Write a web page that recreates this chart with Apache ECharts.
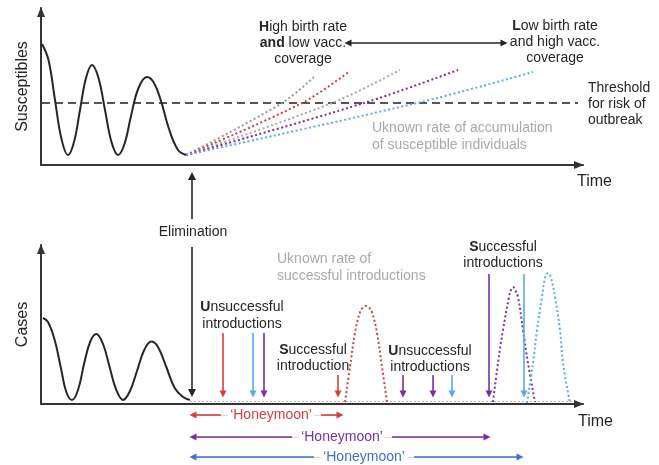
<!DOCTYPE html>
<html>
<head>
<meta charset="utf-8">
<script src="https://cdn.jsdelivr.net/npm/echarts@6/dist/echarts.min.js"></script>
<style>
html,body{margin:0;padding:0;background:#fff;}
#chart{width:659px;height:465px;}
</style>
</head>
<body>
<div id="chart"></div>
<script>
// ---------- DATA (schematic units: time 0-542, level 0-157 top / 0-159 bottom) ----------
// Top panel: susceptibles before elimination
const suscTime  = [1, 7.5, 14, 20.5, 27, 33, 39, 45, 51, 57.5, 64, 70.5, 77, 83.5, 90, 97.5, 106, 113, 120, 128, 137, 145];
const suscLevel = [121, 105, 65, 26, 10, 23, 55, 87, 100, 87, 55, 23, 10, 21, 49, 77, 88, 82, 64, 36, 15, 10];
// Threshold for risk of outbreak
const thresholdLevel = 62;
const thresholdSpan = [1, 537];
// Accumulation scenarios after elimination (start, threshold crossing, end)
const accumNames     = ['grey1', 'red', 'grey2', 'purple', 'blue'];
const accumStart     = [145, 10];
const accumCrossTime = [241, 261, 291, 323, 376];
const accumEndTime   = [274, 309, 359, 417, 492];
const accumEndLevel  = [89, 94, 95, 95, 93];
// Double arrow between scenario labels
const scenarioArrowTime  = [307, 463];
const scenarioArrowLevel = 122;

// Bottom panel: cases before elimination
const casesTime  = [2, 7, 13.7, 20.3, 25.3, 31, 37, 43.5, 49.5, 55.3, 62, 68.6, 75.3, 82, 89, 96, 103.2, 110.3, 117, 125.3, 133.7, 142, 149];
const casesLevel = [86, 82, 64, 34, 12, 4, 14, 42, 63, 70, 60, 37, 14, 4, 13, 33, 54, 62.5, 57, 37, 16, 7, 4];
// Zero-case baseline after elimination
const baselineSpan = [149, 532];
const baselineLevel = 2.5;
// Outbreaks after successful introductions
const redOutbreakTime     = [304, 309, 314, 319, 322, 325, 328, 331, 336, 341, 346];
const redOutbreakCases    = [2, 37, 71, 92, 96.5, 98, 96.5, 92, 71, 37, 2];
const purpleOutbreakTime  = [452, 457, 462, 468, 470, 472, 474, 477, 482, 487, 494];
const purpleOutbreakCases = [2, 41, 74, 107, 114, 117, 114, 107, 74, 41, 2];
const blueOutbreakTime    = [486, 492, 496, 501, 504, 507, 510, 514, 519, 522, 529];
const blueOutbreakCases   = [1, 41, 74, 107, 126, 131, 126, 107, 74, 41, 1];
// Introductions (arrows)
const introTime   = [182, 212, 223, 297, 362, 392, 411, 448, 483];
const introTop    = [71, 71, 71, 29, 29, 29, 29, 130, 130];
const introBottom = [10, 10, 10, 10, 10, 10, 10, 10, 10];
const introGroup  = ['red', 'blue', 'purple', 'red', 'purple', 'purple', 'blue', 'purple', 'blue'];
// Elimination arrow
const elimTime = 151;
const elimUp   = [185, 228];
const elimDown = [157, 11];
// Honeymoon periods
const honeyGroup  = ['red', 'purple', 'blue'];
const honeyStart  = 152;
const honeyEnd    = [299, 446, 479];
const honeyLevel  = [-11, -33, -53];
const honeyLabelTime = [230, 301, 323];

// ---------- STYLE ----------
const FONT = '"Liberation Sans", Arial, Helvetica, sans-serif';
const COLORS = { red: '#d33f3f', purple: '#7d2e9e', blue: '#5aa8ee', grey1: '#9a9a9a', grey2: '#a8a8a8' };
const HONEY_COLORS = { red: '#d33f3f', purple: '#7d2e9e', blue: '#3f6fcf' };
const INK = '#262626';

const chart = echarts.init(document.getElementById('chart'), null, { renderer: 'canvas' });

function zip(a, b) { return a.map((v, i) => [v, b[i]]); }

const axisLine = {
  show: true, onZero: false,
  lineStyle: { color: '#333', width: 2 },
  symbol: ['none', 'triangle'], symbolSize: [8, 10], symbolOffset: [0, -4]
};
function xAx(g) {
  return { gridIndex: g, type: 'value', min: 0, max: 542, axisLine, axisTick: { show: false }, axisLabel: { show: false }, splitLine: { show: false } };
}
function yAx(g, max, name) {
  return { gridIndex: g, type: 'value', min: 0, max, axisLine, axisTick: { show: false }, axisLabel: { show: false }, splitLine: { show: false },
    name, nameLocation: 'middle', nameRotate: 90, nameGap: 10,
    nameTextStyle: { fontSize: 16, color: INK, fontFamily: FONT } };
}

const series = [];
// top
series.push({ type: 'line', xAxisIndex: 0, yAxisIndex: 0, data: zip(suscTime, suscLevel), smooth: 0.4, showSymbol: false,
  lineStyle: { color: INK, width: 2 }, z: 5 });
series.push({ type: 'line', xAxisIndex: 0, yAxisIndex: 0, data: thresholdSpan.map(t => [t, thresholdLevel]), showSymbol: false,
  lineStyle: { color: '#555', width: 1.8, type: [8, 5] }, z: 3 });
accumNames.forEach((n, i) => {
  series.push({ type: 'line', xAxisIndex: 0, yAxisIndex: 0, showSymbol: false, smooth: 0.35,
    data: [accumStart, [accumCrossTime[i], thresholdLevel], [accumEndTime[i], accumEndLevel[i]]],
    lineStyle: { color: COLORS[n], width: 2, type: [2, 2.5] }, z: 4 });
});
series.push({ type: 'lines', coordinateSystem: 'cartesian2d', xAxisIndex: 0, yAxisIndex: 0, clip: false,
  symbol: ['triangle', 'triangle'], symbolSize: 7,
  lineStyle: { color: INK, width: 1.5, opacity: 1 },
  data: [{ coords: scenarioArrowTime.map(t => [t, scenarioArrowLevel]) }] });

// bottom
series.push({ type: 'line', xAxisIndex: 1, yAxisIndex: 1, data: zip(casesTime, casesLevel), smooth: 0.4, showSymbol: false,
  lineStyle: { color: INK, width: 2 }, z: 5 });
series.push({ type: 'line', xAxisIndex: 1, yAxisIndex: 1, data: baselineSpan.map(t => [t, baselineLevel]), showSymbol: false,
  lineStyle: { color: '#b5b5b5', width: 1.2, type: [2, 2] }, z: 2 });
[[redOutbreakTime, redOutbreakCases, 'red'], [purpleOutbreakTime, purpleOutbreakCases, 'purple'], [blueOutbreakTime, blueOutbreakCases, 'blue']]
  .forEach(([t, c, n]) => {
    series.push({ type: 'line', xAxisIndex: 1, yAxisIndex: 1, data: zip(t, c), smooth: 0.4, showSymbol: false,
      lineStyle: { color: COLORS[n], width: 2, type: [2, 2.5] }, z: 4 });
  });
series.push({ type: 'lines', coordinateSystem: 'cartesian2d', xAxisIndex: 1, yAxisIndex: 1, clip: false,
  symbol: ['none', 'triangle'], symbolSize: 7, z: 6,
  data: introTime.map((t, i) => ({ coords: [[t, introTop[i]], [t, introBottom[i]]],
    lineStyle: { color: COLORS[introGroup[i]], width: 1.6, opacity: 1 } })) });
series.push({ type: 'lines', coordinateSystem: 'cartesian2d', xAxisIndex: 1, yAxisIndex: 1, clip: false,
  symbol: ['none', 'triangle'], symbolSize: 8, z: 6,
  lineStyle: { color: INK, width: 1.6, opacity: 1 },
  data: [{ coords: [[elimTime, elimUp[0]], [elimTime, elimUp[1]]] }, { coords: [[elimTime, elimDown[0]], [elimTime, elimDown[1]]] }] });
// honeymoon: faint full line, then coloured segments with arrowheads
const GAP = 50;
series.push({ type: 'lines', coordinateSystem: 'cartesian2d', xAxisIndex: 1, yAxisIndex: 1, clip: false, symbol: 'none', z: 2,
  lineStyle: { color: '#dcdcdc', width: 1.2, opacity: 1 },
  data: honeyGroup.map((g, i) => ({ coords: [[honeyStart, honeyLevel[i]], [honeyEnd[i], honeyLevel[i]]] })) });
series.push({ type: 'lines', coordinateSystem: 'cartesian2d', xAxisIndex: 1, yAxisIndex: 1, clip: false,
  symbol: ['triangle', 'none'], symbolSize: 7, z: 3,
  data: honeyGroup.map((g, i) => ({ coords: [[honeyStart, honeyLevel[i]], [honeyLabelTime[i] - GAP, honeyLevel[i]]],
    lineStyle: { color: HONEY_COLORS[g], width: 1.6, opacity: 1 } })) });
series.push({ type: 'lines', coordinateSystem: 'cartesian2d', xAxisIndex: 1, yAxisIndex: 1, clip: false,
  symbol: ['none', 'triangle'], symbolSize: 7, z: 3,
  data: honeyGroup.map((g, i) => ({ coords: [[honeyLabelTime[i] + GAP, honeyLevel[i]], [honeyEnd[i], honeyLevel[i]]],
    lineStyle: { color: HONEY_COLORS[g], width: 1.6, opacity: 1 } })) });

// ---------- TEXT ----------
const RICH = { b: { fontWeight: 'bold', fontSize: 14, fontFamily: FONT, fill: INK, lineHeight: 16 } };
function T(x, y, text, o) {
  return { type: 'text', x, y, z: 100,
    style: Object.assign({ text, fill: INK, fontSize: 14, fontFamily: FONT, align: 'center', verticalAlign: 'middle', lineHeight: 16, rich: RICH }, o || {}) };
}
const graphic = [
  T(303, 43, '{b|H}igh birth rate\n{b|and} low vacc.\ncoverage'),
  T(555, 42, '{b|L}ow birth rate\nand high vacc.\ncoverage'),
  T(588, 104, 'Threshold\nfor risk of\noutbreak', { align: 'left' }),
  T(372, 137, 'Uknown rate of accumulation\nof susceptible individuals', { align: 'left', fill: '#a9a9a9', lineHeight: 17 }),
  T(577, 182, 'Time', { align: 'left', fontSize: 16 }),
  T(193, 232, 'Elimination'),
  T(277, 268, 'Uknown rate of\nsuccessful introductions', { align: 'left', fill: '#a9a9a9', lineHeight: 17 }),
  T(242, 316, '{b|U}nsuccessful\nintroductions', { lineHeight: 17 }),
  T(313, 358, '{b|S}uccessful\nintroduction', { lineHeight: 16 }),
  T(430, 359, '{b|U}nsuccessful\nintroductions', { lineHeight: 16 }),
  T(503, 255, '{b|S}uccessful\nintroductions', { lineHeight: 16 }),
  T(578, 422, 'Time', { align: 'left', fontSize: 16 })
];

chart.setOption({
  animation: false,
  backgroundColor: '#fff',
  grid: [
    { left: 41, top: 8, width: 542, height: 157 },
    { left: 41, top: 245, width: 542, height: 159 }
  ],
  xAxis: [xAx(0), xAx(1)],
  yAxis: [yAx(0, 157, 'Susceptibles'), yAx(1, 159, 'Cases')],
  series,
  graphic
});

// Honeymoon labels placed through the bottom panel's scales
const honeyText = honeyGroup.map((g, i) => {
  const p = chart.convertToPixel({ gridIndex: 1 }, [honeyLabelTime[i], honeyLevel[i]]);
  return T(p[0], p[1], '\u2018Honeymoon\u2019', { fill: HONEY_COLORS[g], backgroundColor: '#fff', padding: [0, 2] });
});
chart.setOption({ graphic: graphic.concat(honeyText) });
</script>
</body>
</html>
